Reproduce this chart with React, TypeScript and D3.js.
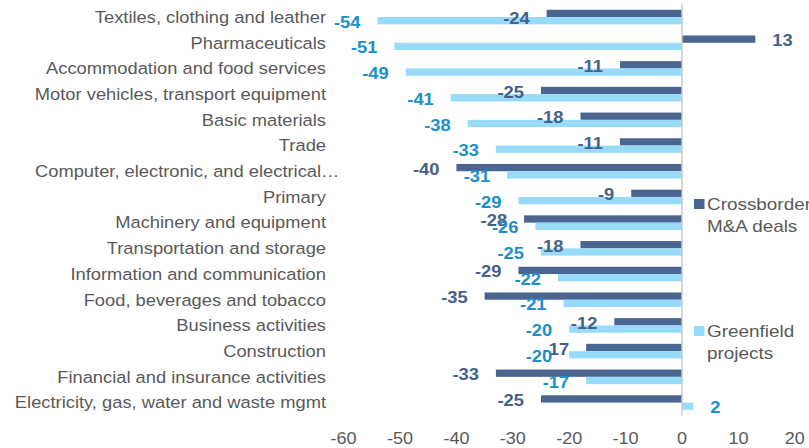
import React from "react";
import * as d3 from "d3";

const categories = [
  "Textiles, clothing and leather",
  "Pharmaceuticals",
  "Accommodation and food services",
  "Motor vehicles, transport equipment",
  "Basic materials",
  "Trade",
  "Computer, electronic, and electrical…",
  "Primary",
  "Machinery and equipment",
  "Transportation and storage",
  "Information and communication",
  "Food, beverages and tobacco",
  "Business activities",
  "Construction",
  "Financial and insurance activities",
  "Electricity, gas, water and waste mgmt",
];
const crossborderMA = [-24, 13, -11, -25, -18, -11, -40, -9, -28, -18, -29, -35, -12, -17, -33, -25];
const greenfield = [-54, -51, -49, -41, -38, -33, -31, -29, -26, -25, -22, -21, -20, -20, -17, 2];
const xTicks = [-60, -50, -40, -30, -20, -10, 0, 10, 20];
const seriesNames = [["Crossborder", "M&A deals"], ["Greenfield", "projects"]];

const W = 809;
const H = 448;
const DARK = "#4A6590";
const LIGHT = "#97DBF9";
const DARK_TXT = "#46608A";
const LIGHT_TXT = "#1A8FCA";
const GREY = "#595959";
const FONT = "'Liberation Sans', Arial, sans-serif";
const SX = 1.125;

function T(props: {
  x: number;
  y: number;
  anchor?: "start" | "middle" | "end";
  fs: number;
  fill: string;
  bold?: boolean;
  children: React.ReactNode;
}) {
  return (
    <text
      transform={`translate(${props.x},${props.y}) scale(${SX},1)`}
      textAnchor={props.anchor || "start"}
      fontSize={props.fs}
      fontWeight={props.bold ? "bold" : "normal"}
      fill={props.fill}
      fontFamily={FONT}
    >
      {props.children}
    </text>
  );
}

export default function App() {
  const x = d3.scaleLinear().domain([-60, 20]).range([343.6, 794.8]);
  const y = d3.scaleBand<string>().domain(categories).range([4.2, 415.4]);
  const barH = 7.3;
  const labelFs = 16.3;
  const catFs = 16.3;

  const dataLabel = (v: number, cy: number, color: string, key: string) => {
    const c = Math.max(cy + 1.3, 18.5);
    return (
      <T
        key={key}
        x={x(v) + (v < 0 ? -17 : 17)}
        y={c + labelFs * 0.355}
        anchor={v < 0 ? "end" : "start"}
        fs={labelFs}
        bold
        fill={color}
      >
        {v}
      </T>
    );
  };

  return (
    <svg
      width={W}
      height={H}
      style={{ position: "absolute", left: 0, top: 0, background: "#fff" }}
    >
      {categories.map((c, i) => {
        const center = (y(c) as number) + y.bandwidth() / 2;
        const a = crossborderMA[i];
        const g = greenfield[i];
        return (
          <g key={c}>
            <rect
              x={Math.min(x(a), x(0))}
              y={center - barH}
              width={Math.abs(x(a) - x(0))}
              height={barH}
              fill={DARK}
            />
            <rect
              x={Math.min(x(g), x(0))}
              y={center}
              width={Math.abs(x(g) - x(0))}
              height={barH}
              fill={LIGHT}
            />
          </g>
        );
      })}
      <line x1={x(0)} x2={x(0)} y1={4.2} y2={415.4} stroke="#C8C8C8" strokeWidth={1.5} />
      {categories.map((c, i) => {
        const center = (y(c) as number) + y.bandwidth() / 2;
        return (
          <g key={"l" + c}>
            {dataLabel(crossborderMA[i], center - barH / 2, DARK_TXT, "a")}
            {dataLabel(greenfield[i], center + barH / 2, LIGHT_TXT, "g")}
          </g>
        );
      })}
      {categories.map((c) => {
        const center = (y(c) as number) + y.bandwidth() / 2;
        const trunc = c.endsWith("…");
        return (
          <T
            key={"c" + c}
            x={trunc ? 35 : 326}
            y={center + catFs * 0.355}
            anchor={trunc ? "start" : "end"}
            fs={catFs}
            fill={GREY}
          >
            {c}
          </T>
        );
      })}
      {xTicks.map((t) => (
        <T key={"t" + t} x={x(t)} y={444} anchor="middle" fs={16} fill={GREY}>
          {t}
        </T>
      ))}
      {seriesNames.map((lines, k) => {
        const sy = k === 0 ? 199 : 326;
        return (
          <g key={"lg" + k}>
            <rect x={694} y={sy} width={10.5} height={10} fill={k === 0 ? DARK : LIGHT} />
            {lines.map((ln, j) => (
              <T key={ln} x={707} y={sy + 11 + j * 21.5} fs={16.8} fill={GREY}>
                {ln}
              </T>
            ))}
          </g>
        );
      })}
    </svg>
  );
}
